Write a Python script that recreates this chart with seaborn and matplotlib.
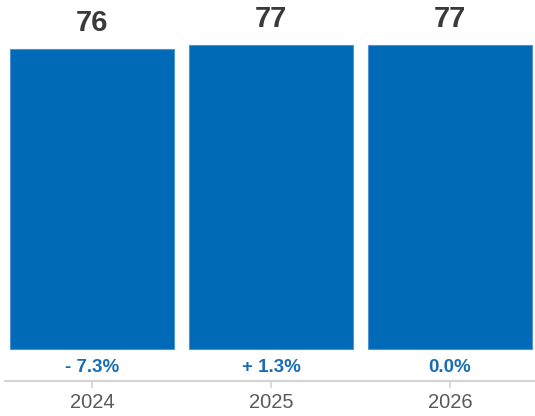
import matplotlib
matplotlib.use("Agg")
import matplotlib.pyplot as plt
import seaborn as sns
import pandas as pd

years = ["2024", "2025", "2026"]
values = [76, 77, 77]
changes = ["- 7.3%", "+ 1.3%", "0.0%"]

bar_color = "#006ab6"
edge_color = "#4f93d2"

sns.set_style("white")
plt.rcParams["font.family"] = ["Liberation Sans", "DejaVu Sans"]

df = pd.DataFrame({"year": years, "value": values})

fig = plt.figure(figsize=(5.35, 4.16), dpi=100)
ax = fig.add_axes([5 / 535, 35 / 416, 530 / 535, 381 / 416])

sns.barplot(data=df, x="year", y="value", color=bar_color, saturation=1,
            width=0.92, edgecolor=edge_color, linewidth=0.8, ax=ax)

ax.set_xlim(-0.486, 2.475)
ax.set_ylim(-8.1, 88.4)

# value labels above bars
for i, v in enumerate(values):
    ax.annotate(str(v), (i, v), xytext=(0, 19), textcoords="offset points",
                ha="center", va="center", fontsize=21, fontweight="bold",
                color="#3a3a3a")

# change labels under bars
for i, c in enumerate(changes):
    ax.text(i, -4.6, c, ha="center", va="center", fontsize=13.5,
            fontweight="bold", color="#1a6db5")

ax.set_xlabel("")
ax.set_ylabel("")
ax.set_yticks([])
for s in ["top", "right", "left"]:
    ax.spines[s].set_visible(False)
ax.spines["bottom"].set_color("#d4d4d4")
ax.spines["bottom"].set_linewidth(1.5)
ax.tick_params(axis="x", length=5, width=1.2, color="#d4d4d4",
               labelsize=14.5, labelcolor="#5a5a5a", pad=4, bottom=True)

plt.savefig("out.png", dpi=100)
